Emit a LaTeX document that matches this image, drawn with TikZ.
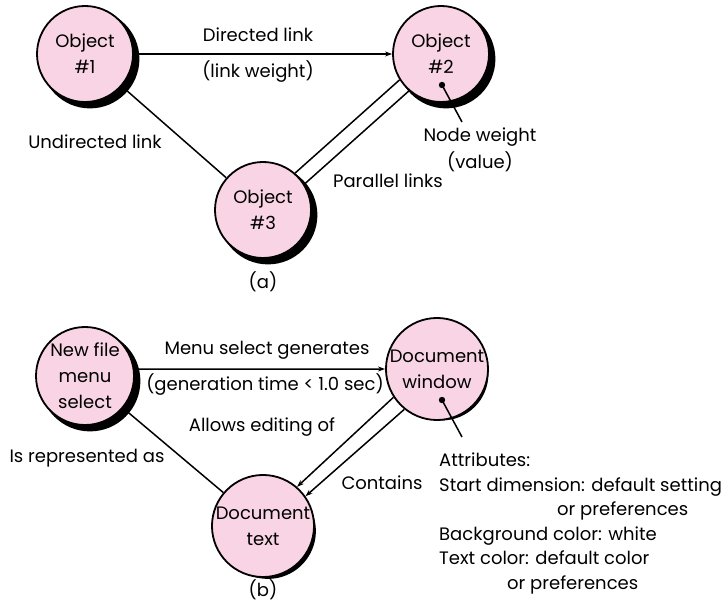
\documentclass[tikz,border=0pt]{standalone}
\usepackage{fontspec}
\setmainfont{Poppins}
\usetikzlibrary{arrows.meta}
\definecolor{pinkfill}{RGB}{248,212,228}
\begin{document}
\begin{tikzpicture}[x=1pt,y=-1pt,
  lbl/.style={font=\fontsize{18}{26}\selectfont, inner sep=0pt, align=center},
  obj/.style={circle, draw=black, line width=1.8pt, fill=pinkfill, minimum size=#1,
    inner sep=0pt, align=center, font=\fontsize{18}{26}\selectfont},
  obj/.default=96pt,
  shadowdisc/.style={circle, fill=black, draw=black, line width=1.8pt, minimum size=#1, inner sep=0pt},
  link/.style={line width=1.5pt},
  arr/.style={line width=1.5pt, -{Stealth[length=7pt,width=5pt]}}
]
\useasboundingbox (0,0) rectangle (723,609);

% shadows of the circles (black discs offset down-right)
\node[shadowdisc=97pt] (s1) at (90,59) {};
\node[shadowdisc=97pt] (s2) at (446,59) {};
\node[shadowdisc=97pt] (s3) at (268,215) {};
\node[shadowdisc=99pt] (s4) at (90,381) {};
\node[shadowdisc=91pt] (s5) at (442,374) {};
\node[shadowdisc=94pt] (s6) at (268,531) {};

% ---------- (a) ----------
\node[obj] (o1) at (85,54) {Object\\\#1};
\node[obj] (o2) at (441,54) {Object\\\#2};
\node[obj] (o3) at (263,210) {Object\\\#3};

\draw[arr] (o1) -- (o2);
\node[lbl] (dl) at (258,35) {Directed link};
\node[lbl] (lw) at (258,72) {(link weight)};

\draw[link] (o1) -- (o3);
\node[lbl] (ul) at (95,142) {Undirected link};

\draw[link] (o2.212.8) -- (o3.49.6);
\draw[link] (o2.229.6) -- (o3.32.8);
\node[lbl] (pl) at (388,181) {Parallel links};

\coordinate (nwdot) at (442,85);
\coordinate (nwend) at (462,122);
\fill (nwdot) circle [radius=3.2pt];
\draw[link] (nwdot) -- (nwend);
\node[lbl] (nw) at (480,137) {Node weight};
\node[lbl] (val) at (480,162) {(value)};

\node[lbl] (capa) at (263,282) {(a)};

% ---------- (b) ----------
\node[obj=98pt] (nf) at (85,376) {New file\\menu\\select};
\node[obj=90pt] (dw) at (437,369) {Document\\window};
\node[obj=93pt] (dt) at (263,526) {Document\\text};

\draw[arr] (nf.8) -- (dw.west);
\node[lbl] (msg) at (267,350) {Menu select generates};
\node[lbl] (gt) at (265,385) {(generation time < 1.0 sec)};

\draw[link] (nf) -- (dt);
\node[lbl] (ira) at (87,458) {Is represented as};
\node[lbl] (aeo) at (262,427) {Allows editing of};

\draw[arr] (dw.213) -- (dt.49);
\draw[arr] (dw.231) -- (dt.35);
\node[lbl] (cont) at (382,483) {Contains};

\coordinate (atdot) at (442,400);
\coordinate (atend) at (462,437);
\fill (atdot) circle [radius=3.2pt];
\draw[link] (atdot) -- (atend);
\node[lbl, align=left, anchor=north west, font=\fontsize{18}{24.5}\selectfont] (attr) at (439,453)
  {Attributes:\\
   Start dimension: default setting\\
   \hspace*{118pt}or preferences\\
   Background color: white\\
   Text color: default color\\
   \hspace*{68pt}or preferences};

\node[lbl] (capb) at (263,590) {(b)};
\end{tikzpicture}
\end{document}
